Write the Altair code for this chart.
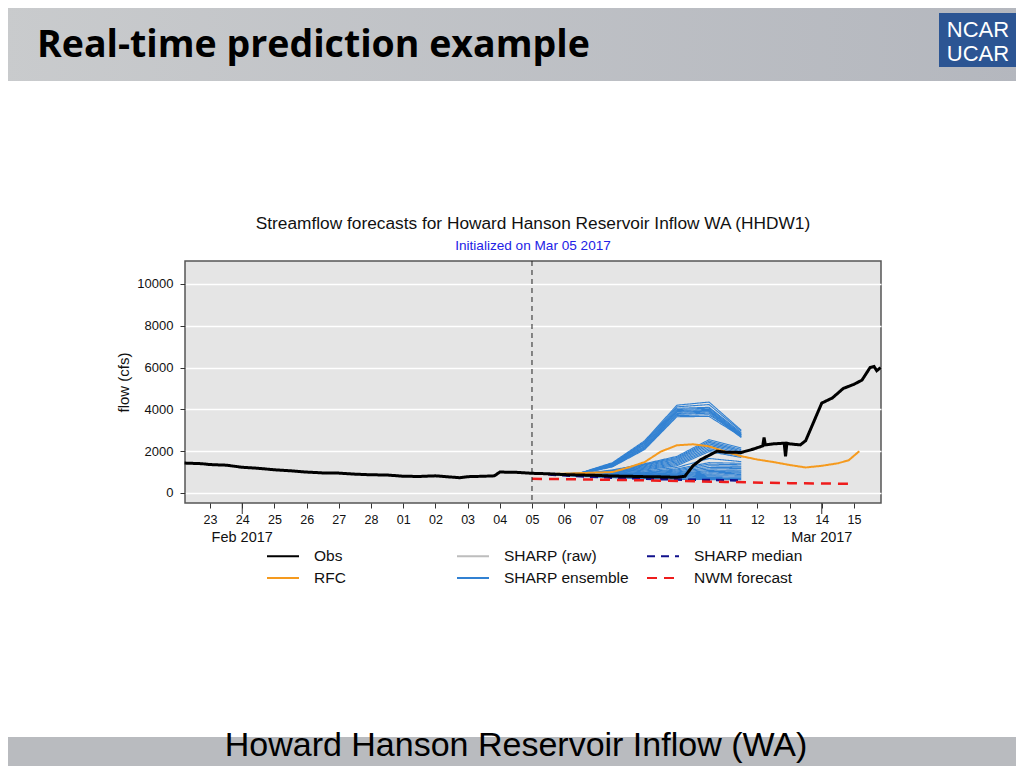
import altair as alt
import pandas as pd

FONT = "Liberation Sans"

# ---------------- data ----------------
obs_time = [
    "2017-02-22T05:00", "2017-02-22T18:00", "2017-02-23T00:00", "2017-02-23T12:00",
    "2017-02-24T00:00", "2017-02-24T12:00", "2017-02-25T00:00", "2017-02-25T12:00",
    "2017-02-26T00:00", "2017-02-26T12:00", "2017-02-27T00:00", "2017-02-27T12:00",
    "2017-02-28T00:00", "2017-02-28T12:00", "2017-03-01T00:00", "2017-03-01T12:00",
    "2017-03-02T00:00", "2017-03-02T12:00", "2017-03-02T18:00", "2017-03-03T00:00",
    "2017-03-03T12:00", "2017-03-03T20:00", "2017-03-04T00:00", "2017-03-04T12:00",
    "2017-03-05T00:00", "2017-03-05T12:00", "2017-03-06T00:00", "2017-03-06T12:00",
    "2017-03-07T00:00", "2017-03-07T12:00", "2017-03-08T00:00", "2017-03-08T12:00",
    "2017-03-09T00:00", "2017-03-09T12:00", "2017-03-09T18:00", "2017-03-10T00:00",
    "2017-03-10T06:00", "2017-03-10T12:00", "2017-03-10T18:00", "2017-03-11T00:00",
    "2017-03-11T12:00", "2017-03-11T20:00", "2017-03-12T04:00", "2017-03-12T05:00",
    "2017-03-12T06:00", "2017-03-12T12:00", "2017-03-12T20:00", "2017-03-12T21:00",
    "2017-03-12T22:00", "2017-03-13T00:00", "2017-03-13T08:00", "2017-03-13T12:00",
    "2017-03-13T18:00", "2017-03-14T00:00", "2017-03-14T08:00", "2017-03-14T16:00",
    "2017-03-15T00:00", "2017-03-15T06:00", "2017-03-15T12:00", "2017-03-15T15:00",
    "2017-03-15T17:00", "2017-03-15T20:00",
]
obs_flow = [
    1430, 1400, 1360, 1330, 1230, 1180, 1110, 1060, 1000, 960, 950, 900,
    870, 860, 800, 790, 820, 760, 730, 780, 800, 820, 1000, 990,
    940, 920, 880, 860, 840, 810, 800, 780, 770, 750, 800, 1300,
    1600, 1800, 2000, 1950, 1940, 2080, 2250, 2650, 2300, 2350, 2380, 1750,
    2380, 2350, 2300, 2500, 3400, 4300, 4550, 5000, 5200, 5400, 6000, 6050,
    5850, 6000,
]

rfc_time = [
    "2017-03-05T12:00", "2017-03-06T12:00", "2017-03-07T12:00", "2017-03-08T00:00",
    "2017-03-08T12:00", "2017-03-09T00:00", "2017-03-09T12:00", "2017-03-10T00:00",
    "2017-03-10T12:00", "2017-03-11T00:00", "2017-03-11T12:00", "2017-03-12T00:00",
    "2017-03-12T12:00", "2017-03-13T00:00", "2017-03-13T12:00", "2017-03-14T00:00",
    "2017-03-14T12:00", "2017-03-14T20:00", "2017-03-15T04:00",
]
rfc_flow = [
    900, 950, 1000, 1220, 1480, 1980, 2280, 2330, 2230, 1980, 1760, 1600,
    1480, 1340, 1220, 1300, 1420, 1560, 2000,
]

nwm_time = ["2017-03-05T00:00", "2017-03-07T00:00", "2017-03-09T00:00",
            "2017-03-11T00:00", "2017-03-13T00:00", "2017-03-14T21:00"]
nwm_flow = [680, 640, 590, 530, 470, 440]

med_time = ["2017-03-05T12:00", "2017-03-06T12:00", "2017-03-07T12:00", "2017-03-08T12:00",
            "2017-03-09T12:00", "2017-03-10T12:00", "2017-03-11T12:00"]
med_flow = [880, 800, 730, 680, 640, 620, 600]

ens_time = ["2017-03-05T12:00", "2017-03-06T12:00", "2017-03-07T12:00", "2017-03-08T12:00",
            "2017-03-09T12:00", "2017-03-10T12:00", "2017-03-11T12:00"]
ens_members = [
    [900, 960, 1450, 2500, 4200, 4350, 3000],
    [900, 950, 1420, 2450, 4120, 4230, 2950],
    [900, 950, 1400, 2420, 4050, 4100, 2880],
    [900, 940, 1390, 2380, 3990, 4060, 2830],
    [900, 940, 1370, 2330, 3940, 4000, 2790],
    [900, 930, 1350, 2290, 3900, 3950, 2760],
    [900, 930, 1330, 2240, 3860, 3920, 2720],
    [900, 920, 1310, 2200, 3800, 3880, 2690],
    [900, 920, 1290, 2160, 3760, 3820, 2650],
    [900, 910, 1270, 2120, 3700, 3740, 2780],
    [900, 910, 1250, 2080, 3650, 3660, 2700],
    [900, 920, 1100, 1400, 1750, 2550, 2150],
    [900, 910, 1080, 1370, 1700, 2480, 2080],
    [900, 910, 1060, 1340, 1650, 2420, 2020],
    [900, 900, 1040, 1300, 1600, 2350, 1960],
    [900, 900, 1020, 1260, 1540, 2280, 1900],
    [900, 890, 1000, 1220, 1480, 2200, 1850],
    [900, 890, 990, 1180, 1420, 2120, 1800],
    [900, 880, 970, 1140, 1360, 2050, 1760],
    [900, 880, 950, 1100, 1300, 1980, 1700],
    [900, 870, 930, 1050, 1220, 1650, 1500],
    [900, 870, 910, 1000, 1150, 1450, 1420],
    [900, 860, 900, 970, 1100, 1380, 1350],
    [900, 860, 880, 950, 1050, 1300, 1280],
    [900, 850, 870, 920, 1000, 1220, 1230],
    [900, 850, 860, 900, 960, 1150, 1170],
    [900, 840, 850, 880, 920, 1080, 1100],
    [900, 840, 840, 860, 900, 1020, 1050],
    [900, 830, 830, 840, 870, 960, 1000],
    [900, 830, 820, 820, 840, 900, 950],
    [900, 820, 800, 790, 800, 850, 880],
    [900, 820, 790, 760, 760, 800, 820],
    [900, 810, 770, 730, 720, 740, 760],
    [900, 800, 750, 700, 680, 690, 700],
    [900, 790, 730, 680, 650, 640, 640],
]

series_names = ["Obs", "RFC", "SHARP (raw)", "SHARP ensemble", "SHARP median", "NWM forecast"]
series_colors = ["#000000", "#f59a1e", "#bdbdbd", "#3181d2", "#10108c", "#ee1c1c"]
series_dashes = [[1, 0], [1, 0], [1, 0], [1, 0], [8, 6], [10, 7]]

tick_days = [(2, d) for d in range(23, 29)] + [(3, d) for d in range(1, 16)]
month_label_time = ["2017-02-24T00:00", "2017-03-14T00:00"]
month_label_text = ["Feb 2017", "Mar 2017"]
init_time = ["2017-03-05T00:00"]
y_ticks = [0, 2000, 4000, 6000, 8000, 10000]

chart_title = "Streamflow forecasts for Howard Hanson Reservoir Inflow WA (HHDW1)"
chart_subtitle = "Initialized on Mar 05 2017"
slide_title = "Real-time prediction example"
slide_footer = "Howard Hanson Reservoir Inflow (WA)"

# ---------------- tables ----------------
obs_df = pd.DataFrame({"time": obs_time, "flow": obs_flow, "series": "Obs"})
rfc_df = pd.DataFrame({"time": rfc_time, "flow": rfc_flow, "series": "RFC"})
nwm_df = pd.DataFrame({"time": nwm_time, "flow": nwm_flow, "series": "NWM forecast"})
med_df = pd.DataFrame({"time": med_time, "flow": med_flow, "series": "SHARP median"})
ens_rows = []
for mi, vals in enumerate(ens_members):
    for t, v in zip(ens_time, vals):
        ens_rows.append({"time": t, "flow": v, "member": mi, "series": "SHARP ensemble"})
ens_df = pd.DataFrame(ens_rows)
month_df = pd.DataFrame({"time": month_label_time, "label": month_label_text})
init_df = pd.DataFrame({"time": init_time})
deco = pd.DataFrame({"k": [0]})

W, H = 696, 242
x_scale = alt.Scale(domain=[alt.DateTime(year=2017, month=2, date=22, hours=5, minutes=20),
                            alt.DateTime(year=2017, month=3, date=15, hours=20, minutes=10)])
y_scale = alt.Scale(domain=[-480, 11100], nice=False, zero=False)

x_axis = alt.Axis(title=None,
                  values=[alt.DateTime(year=2017, month=m, date=d) for m, d in tick_days],
                  labelExpr="timeFormat(datum.value, '%d')",
                  grid=False, domain=False, tickSize=5, tickColor="#333",
                  labelFontSize=12.5, labelColor="#111", labelPadding=5,
                  labelFont=FONT, labelFlush=False, labelOverlap=False)
X = alt.X("time:T", scale=x_scale, axis=x_axis)
Y = alt.Y("flow:Q", scale=y_scale,
          axis=alt.Axis(title="flow (cfs)", values=y_ticks, format="d", grid=True,
                        gridColor="white", gridWidth=1.5, domain=False, tickSize=5,
                        tickColor="#333", labelFontSize=13, labelColor="#111",
                        labelPadding=7, labelFont=FONT, titleFont=FONT,
                        titleFontSize=15, titleFontWeight="normal", titleColor="#111",
                        titlePadding=5, labelOverlap=False))

legend_cfg = dict(title=None, orient="none", legendX=87, legendY=284,
                  columns=3, gridAlign="all", columnPadding=14,
                  rowPadding=2, symbolType="M-1.6,0H1.6", symbolSize=400,
                  symbolStrokeWidth=2, labelFontSize=15.5, labelFont=FONT,
                  labelColor="#111", labelOffset=20)
color = alt.Color("series:N", scale=alt.Scale(domain=series_names, range=series_colors),
                  legend=alt.Legend(**legend_cfg))
dash = alt.StrokeDash("series:N", scale=alt.Scale(domain=series_names, range=series_dashes),
                      legend=alt.Legend(**legend_cfg))

ens = alt.Chart(ens_df).mark_line(strokeWidth=1.1).encode(
    x=X, y=Y, color=color, strokeDash=dash, detail="member:N")
med = alt.Chart(med_df).mark_line(strokeWidth=2.5).encode(x=X, y=Y, color=color, strokeDash=dash)
nwm = alt.Chart(nwm_df).mark_line(strokeWidth=2.5).encode(x=X, y=Y, color=color, strokeDash=dash)
rfc = alt.Chart(rfc_df).mark_line(strokeWidth=2).encode(x=X, y=Y, color=color, strokeDash=dash)
obs = alt.Chart(obs_df).mark_line(strokeWidth=3).encode(x=X, y=Y, color=color, strokeDash=dash)

init_rule = alt.Chart(init_df).mark_rule(color="#222", strokeDash=[5, 4], strokeWidth=1).encode(
    x=X)
long_ticks = alt.Chart(month_df).mark_rule(color="#333", strokeWidth=1).encode(
    x=X, y=alt.value(H), y2=alt.value(H + 11))
month_text = alt.Chart(month_df).mark_text(fontSize=14.5, font=FONT, color="#111",
                                           baseline="middle").encode(
    x=X, y=alt.value(H + 35), text="label:N")

# chart titles
title1 = alt.Chart(deco).mark_text(text=chart_title, font=FONT, fontSize=17.3, color="#111",
                                   baseline="middle").encode(x=alt.value(W / 2), y=alt.value(-37))
title2 = alt.Chart(deco).mark_text(text=chart_subtitle, font=FONT, fontSize=13.6, color="#2222e6",
                                   baseline="middle").encode(x=alt.value(W / 2), y=alt.value(-15))

# slide decorations (header band, logo, footer)
header = alt.Chart(deco).mark_rect(
    fill=alt.LinearGradient(gradient="linear", x1=0, x2=1, y1=0, y2=0,
                            stops=[alt.GradientStop(offset=0, color="#c9cbcd"),
                                   alt.GradientStop(offset=1, color="#b4b7be")])).encode(
    x=alt.value(-185), x2=alt.value(839), y=alt.value(-261), y2=alt.value(-180))
header_text = alt.Chart(deco).mark_text(text=slide_title, font="Open Sans",
                                        fontWeight="bold", fontSize=37.5, align="left",
                                        baseline="alphabetic", color="#000").encode(
    x=alt.value(-148), y=alt.value(-204))
logo = alt.Chart(deco).mark_rect(color="#2c5593").encode(
    x=alt.value(754), x2=alt.value(832), y=alt.value(-248), y2=alt.value(-194))
logo1 = alt.Chart(deco).mark_text(text="NCAR", font="Liberation Sans", fontSize=22,
                                  color="white", baseline="middle").encode(
    x=alt.value(793), y=alt.value(-231))
logo2 = alt.Chart(deco).mark_text(text="UCAR", font="Liberation Sans", fontSize=22,
                                  color="white", baseline="middle").encode(
    x=alt.value(793), y=alt.value(-207))
footer = alt.Chart(deco).mark_rect(color="#b9bbbf").encode(
    x=alt.value(-185), x2=alt.value(839), y=alt.value(476), y2=alt.value(515))
footer_text = alt.Chart(deco).mark_text(text=slide_footer, font=FONT,
                                        fontSize=34, color="#000", baseline="alphabetic").encode(
    x=alt.value(331), y=alt.value(495))

chart = alt.layer(
    header, header_text, logo, logo1, logo2, footer, footer_text, title1, title2,
    ens, med, nwm, rfc, init_rule, obs, long_ticks, month_text,
).resolve_scale(color="shared", strokeDash="shared").properties(
    width=W, height=H,
    autosize=alt.AutoSizeParams(type="none"),
    padding={"left": 177, "top": 253, "right": 135, "bottom": 263},
).configure(background="white").configure_view(
    fill="#e5e5e5", stroke="#555", strokeWidth=1.5)

chart.save("out.html", embed_options={"renderer": "svg", "actions": False})
